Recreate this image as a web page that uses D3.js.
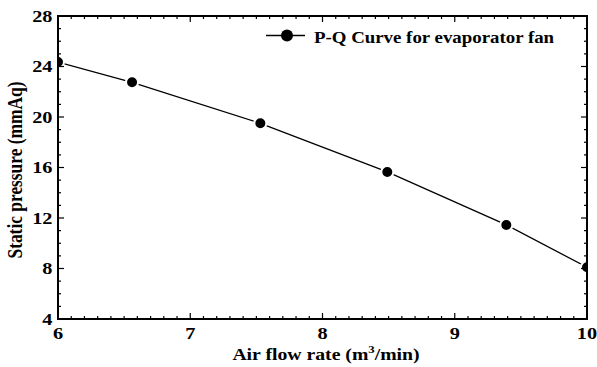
<!DOCTYPE html>
<html>
<head>
<meta charset="utf-8">
<script src="https://cdn.jsdelivr.net/npm/d3@7"></script>
<style>
  body { margin: 0; background: #fff; }
  svg { display: block; }
  text { font-family: "Liberation Serif", "Times New Roman", serif; font-weight: bold; fill: #000; }
</style>
</head>
<body>
<svg id="chart" width="597" height="367"></svg>
<script>
// Data
const airFlow = [6.0, 6.56, 7.53, 8.49, 9.39, 10.0];
const staticPressure = [24.35, 22.75, 19.5, 15.65, 11.45, 8.1];
const xTicks = [6, 7, 8, 9, 10];
const yTicks = [4, 8, 12, 16, 20, 24, 28];
const seriesName = 'P-Q Curve for evaporator fan';

const svg = d3.select('#chart');
const margin = { left: 58, top: 16, right: 10, bottom: 48 };
const W = 597, H = 367;
const x0 = margin.left, x1 = W - margin.right;
const y0 = H - margin.bottom, y1 = margin.top;

// the original figure text is a bit wider than plain Times bold
const SX = 1.16;
const FS = 17;

const x = d3.scaleLinear().domain([6, 10]).range([x0, x1]);
const y = d3.scaleLinear().domain([4, 28]).range([y0, y1]);

const points = airFlow.map((v, i) => ({ x: v, y: staticPressure[i] }));

// clip for markers
svg.append('defs').append('clipPath').attr('id', 'plotClip')
  .append('rect').attr('x', x0).attr('y', y1).attr('width', x1 - x0).attr('height', y0 - y1);

const plot = svg.append('g').attr('clip-path', 'url(#plotClip)');

// line
plot.append('path')
  .datum(points)
  .attr('fill', 'none')
  .attr('stroke', '#000')
  .attr('stroke-width', 1.3)
  .attr('d', d3.line().x(d => x(d.x)).y(d => y(d.y)));

// markers with a white halo like the original
plot.selectAll('circle')
  .data(points)
  .enter().append('circle')
  .attr('cx', d => x(d.x))
  .attr('cy', d => y(d.y))
  .attr('r', 6)
  .attr('fill', '#000')
  .attr('stroke', '#fff')
  .attr('stroke-width', 2);

// axes: ticks inward, mirrored on top and right
const minorX = d3.range(60, 101).map(v => v / 10);
const minorY = d3.range(4, 29);

const ticks = svg.append('g').attr('stroke', '#000').attr('stroke-width', 1.2);
minorX.forEach(v => {
  const isMajor = Math.abs(v - Math.round(v)) < 1e-6;
  const len = isMajor ? 6 : 3;
  ticks.append('line').attr('x1', x(v)).attr('x2', x(v)).attr('y1', y0).attr('y2', y0 - len);
  ticks.append('line').attr('x1', x(v)).attr('x2', x(v)).attr('y1', y1).attr('y2', y1 + len);
});
minorY.forEach(v => {
  const len = v % 4 === 0 ? 6 : 3;
  ticks.append('line').attr('x1', x0).attr('x2', x0 + len).attr('y1', y(v)).attr('y2', y(v));
  ticks.append('line').attr('x1', x1).attr('x2', x1 - len).attr('y1', y(v)).attr('y2', y(v));
});

// frame
svg.append('rect')
  .attr('x', x0).attr('y', y1)
  .attr('width', x1 - x0).attr('height', y0 - y1)
  .attr('fill', 'none').attr('stroke', '#000').attr('stroke-width', 2);

// tick labels
svg.append('g').selectAll('text')
  .data(xTicks)
  .enter().append('text')
  .attr('transform', d => `translate(${x(d)},${y0 + 19.5}) scale(${SX},1)`)
  .attr('text-anchor', 'middle')
  .attr('font-size', FS + 0.5)
  .text(d => d);

svg.append('g').selectAll('text')
  .data(yTicks)
  .enter().append('text')
  .attr('transform', d => `translate(${x0 - 5.5},${y(d) + 5.5}) scale(${SX},1)`)
  .attr('text-anchor', 'end')
  .attr('font-size', FS + 0.5)
  .text(d => d);

// axis titles
const xLabel = svg.append('text')
  .attr('transform', `translate(326,360) scale(${SX},1)`)
  .attr('text-anchor', 'middle')
  .attr('font-size', FS);
xLabel.append('tspan').text('Air flow rate (m');
xLabel.append('tspan').attr('font-size', 11).attr('dy', -7).text('3');
xLabel.append('tspan').attr('dy', 7).text('/min)');

svg.append('text')
  .attr('transform', `translate(22,170) rotate(-90) scale(1,${SX})`)
  .attr('text-anchor', 'middle')
  .attr('font-size', 17.4)
  .text('Static pressure (mmAq)');

// legend
const leg = svg.append('g');
leg.append('line')
  .attr('x1', 266).attr('x2', 305).attr('y1', 35.5).attr('y2', 35.5)
  .attr('stroke', '#000').attr('stroke-width', 1.3);
leg.append('circle')
  .attr('cx', 287).attr('cy', 35.5).attr('r', 6).attr('fill', '#000');
leg.append('text')
  .attr('transform', `translate(314,42.5) scale(1.11,1)`)
  .attr('font-size', FS)
  .text(seriesName);
</script>
</body>
</html>
